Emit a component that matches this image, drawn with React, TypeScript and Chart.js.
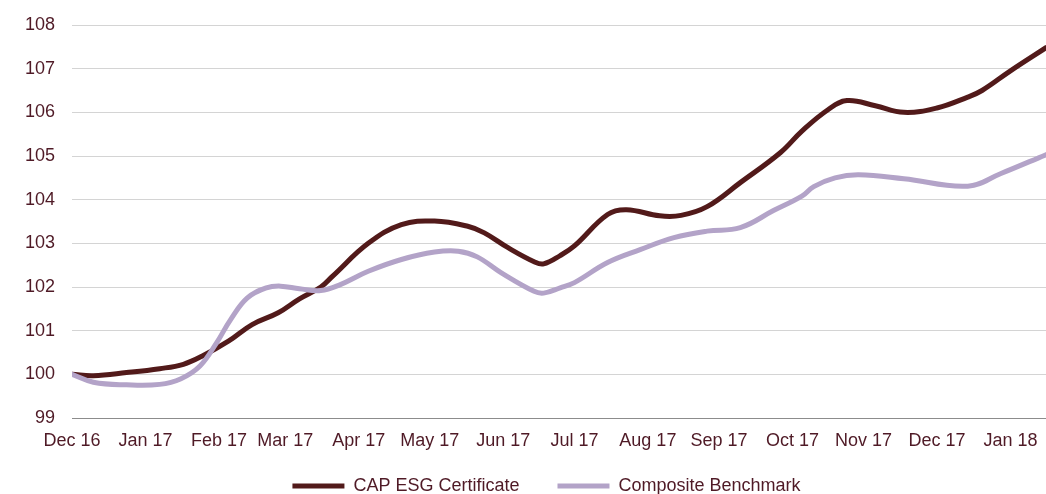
import React, { useEffect, useRef } from "react";
import { Chart, registerables } from "chart.js";

Chart.register(...registerables);

// Days since 1 Dec 2016
const capDays = [0, 9, 23, 37, 47, 55, 66, 76, 87, 96, 105, 110, 125, 139, 153, 167, 174, 184, 195, 199, 206, 212, 226, 234, 248, 257, 268, 282, 299, 308, 319, 327, 339, 351, 365, 378, 384, 396, 411];
const capValues = [100.0, 99.97, 100.04, 100.13, 100.23, 100.42, 100.76, 101.14, 101.41, 101.73, 102.0, 102.25, 103.0, 103.43, 103.51, 103.39, 103.24, 102.9, 102.58, 102.53, 102.72, 102.94, 103.66, 103.77, 103.63, 103.64, 103.84, 104.39, 105.08, 105.57, 106.06, 106.27, 106.15, 106.0, 106.1, 106.35, 106.5, 106.95, 107.48];

const benchDays = [0, 9, 23, 37, 46, 54, 61, 67, 74, 82, 88, 96, 105, 113, 125, 139, 153, 163, 171, 181, 195, 199, 206, 212, 226, 240, 254, 268, 282, 296, 308, 313, 322, 332, 351, 378, 392, 411];
const benchValues = [100.0, 99.82, 99.76, 99.77, 99.9, 100.19, 100.72, 101.26, 101.75, 101.98, 102.02, 101.96, 101.92, 102.05, 102.36, 102.63, 102.8, 102.82, 102.69, 102.33, 101.9, 101.86, 101.98, 102.1, 102.56, 102.86, 103.13, 103.28, 103.36, 103.75, 104.08, 104.3, 104.5, 104.57, 104.48, 104.31, 104.6, 105.03];

const tickDays = [0, 31, 62, 90, 121, 151, 182, 212, 243, 273, 304, 334, 365, 396];
const tickLabels = ["Dec 16", "Jan 17", "Feb 17", "Mar 17", "Apr 17", "May 17", "Jun 17", "Jul 17", "Aug 17", "Sep 17", "Oct 17", "Nov 17", "Dec 17", "Jan 18"];

const seriesNames = ["CAP ESG Certificate", "Composite Benchmark"];
const seriesColors = ["#521a1a", "#b3a3c8"];

const textColor = "#4f1a26";
const font = { family: "'Liberation Sans', Arial, sans-serif", size: 18 };

const legendPlacer = {
  id: "legendPlacer",
  afterLayout(chart: any) {
    const lg = chart.legend;
    if (!lg) return;
    lg.left = 47;
    lg.top = 439;
    lg.bottom = 494;
  },
};

export default function App() {
  const ref = useRef<HTMLCanvasElement>(null);

  useEffect(() => {
    document.body.style.margin = "0";
    const ctx = ref.current!;
    const chart = new Chart(ctx, {
      type: "line",
      plugins: [legendPlacer],
      data: {
        datasets: [
          {
            label: seriesNames[0],
            data: capDays.map((d, i) => ({ x: d, y: capValues[i] })),
            borderColor: seriesColors[0],
            backgroundColor: seriesColors[0],
            borderWidth: 5,
            pointRadius: 0,
            tension: 0.4,
            borderCapStyle: "round",
            borderJoinStyle: "round",
            order: 1,
          },
          {
            label: seriesNames[1],
            data: benchDays.map((d, i) => ({ x: d, y: benchValues[i] })),
            borderColor: seriesColors[1],
            backgroundColor: seriesColors[1],
            borderWidth: 5,
            pointRadius: 0,
            tension: 0.4,
            borderCapStyle: "round",
            borderJoinStyle: "round",
            order: 0,
          },
        ],
      },
      options: {
        animation: false,
        responsive: false,
        maintainAspectRatio: false,
        layout: { padding: { top: 25, right: 0, left: 0, bottom: 0 } },
        plugins: {
          tooltip: { enabled: false },
          legend: {
            position: "bottom",
            maxHeight: 42,
            labels: {
              color: textColor,
              font,
              boxWidth: 52,
              boxHeight: 5,
              padding: 38,
              generateLabels: () =>
                seriesNames.map((n, i) => ({
                  text: n,
                  fillStyle: seriesColors[i],
                  strokeStyle: seriesColors[i],
                  lineWidth: 0,
                  fontColor: textColor,
                  datasetIndex: i,
                  hidden: false,
                })),
            },
          },
        },
        scales: {
          x: {
            type: "linear",
            min: 0,
            max: 411,
            afterBuildTicks: (scale: any) => {
              scale.ticks = tickDays.map((v) => ({ value: v }));
            },
            afterFit: (scale: any) => {
              scale.height = 34;
              scale.paddingRight = 0;
              scale.paddingLeft = 0;
            },
            ticks: {
              color: textColor,
              font,
              padding: 12,
              maxRotation: 0,
              autoSkip: false,
              callback: (v: any) => {
                const i = tickDays.indexOf(Number(v));
                return i >= 0 ? tickLabels[i] : "";
              },
            },
            grid: { display: false, drawTicks: false },
            border: { display: true, color: "#8c8c8c", width: 1 },
          },
          y: {
            min: 99,
            max: 108,
            afterFit: (scale: any) => {
              scale.width = 72;
              scale.paddingTop = 0;
              scale.paddingBottom = 0;
            },
            ticks: {
              stepSize: 1,
              color: textColor,
              font,
              padding: 17,
            },
            grid: {
              drawTicks: false,
              color: (c: any) => (c.tick && c.tick.value === 99 ? "#8c8c8c" : "#d4d4d4"),
              lineWidth: 1,
            },
            border: { display: false },
          },
        },
      },
    });
    return () => chart.destroy();
  }, []);

  return (
    <div style={{ width: 1046, height: 494, overflow: "hidden" }}>
      <canvas ref={ref} width={1046} height={494} style={{ width: 1046, height: 494, display: "block" }} />
    </div>
  );
}
